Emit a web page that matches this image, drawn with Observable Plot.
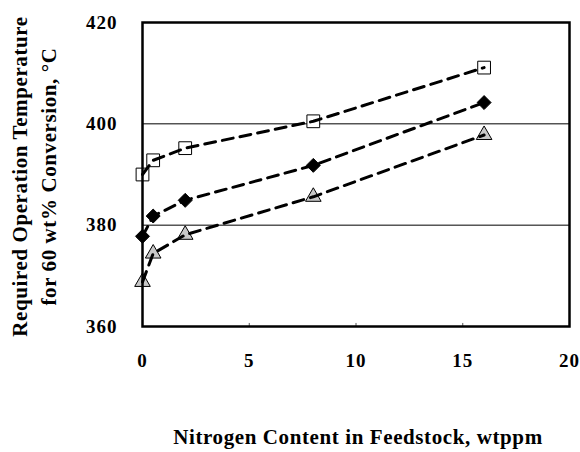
<!DOCTYPE html>
<html>
<head>
<meta charset="utf-8">
<script src="https://cdn.jsdelivr.net/npm/d3@7"></script>
<script src="https://cdn.jsdelivr.net/npm/@observablehq/plot@0.6"></script>
<style>
  html, body { margin: 0; padding: 0; background: #fff; }
</style>
</head>
<body>
<div id="chart"></div>
<script>
const nitrogen = [0, 0.5, 2, 8, 16];
const squareTemps = [390, 392.8, 395.2, 400.5, 411.1];
const diamondTemps = [377.8, 381.8, 384.9, 391.8, 404.2];
const triangleTemps = [368.8, 374.4, 378.1, 385.6, 397.8];
const xTicks = [0, 5, 10, 15, 20];
const yTicks = [360, 380, 400, 420];
const gridY = [380, 400];
const innerTicksX = [5, 10, 15];
const xTitle = "Nitrogen Content in Feedstock, wtppm";
const yTitle1 = "Required Operation Temperature";
const yTitle2 = "for 60 wt% Conversion, \u00B0C";

const mk = (temps) => nitrogen.map((x, i) => ({x, y: temps[i]}));
const sq = mk(squareTemps), di = mk(diamondTemps), tr = mk(triangleTemps);

const font = "'Liberation Serif', 'Times New Roman', serif";
const dash = {x: "x", y: "y", stroke: "black", strokeWidth: 3, strokeDasharray: "11,7"};

const chart = Plot.plot({
  width: 580,
  height: 452,
  marginLeft: 142,
  marginRight: 11,
  marginTop: 22,
  marginBottom: 126,
  style: {fontFamily: font, fontWeight: "bold", fontSize: "19px", background: "white", color: "black", letterSpacing: "1px"},
  x: {domain: [0, 20]},
  y: {domain: [360, 420]},
  marks: [
    Plot.ruleY(gridY, {stroke: "black", strokeWidth: 1}),
    Plot.ruleX(innerTicksX, {y1: 360, y2: 360.6, stroke: "#555", strokeWidth: 1}),
    Plot.dot(sq, {x: "x", y: "y", symbol: "square", r: 7.2, fill: "white", stroke: "black", strokeWidth: 1}),
    Plot.dot(di, {x: "x", y: "y", symbol: "diamond2", r: 6.3, fill: "black", stroke: "black", strokeWidth: 1}),
    Plot.dot(tr, {x: "x", y: "y", symbol: "triangle", r: 5.8, fill: "#c8c8c8", stroke: "black", strokeWidth: 1}),
    Plot.line(sq, dash),
    Plot.line(di, dash),
    Plot.line(tr, dash),
    Plot.frame({stroke: "black", strokeWidth: 2.5}),
    Plot.axisX({ticks: xTicks, tickSize: 0, tickPadding: 27, label: null, fontSize: 19, tickFormat: d => String(d)}),
    Plot.axisY({ticks: yTicks, tickSize: 0, tickPadding: 25, label: null, fontSize: 19, tickFormat: d => String(d)}),
    Plot.text([xTitle], {text: d => d, frameAnchor: "bottom", textAnchor: "middle", dy: 117, dx: 2, fontSize: 21, fontWeight: "bold"}),
    Plot.text([yTitle1], {text: d => d, frameAnchor: "left", textAnchor: "middle", dx: -122, dy: 2, rotate: -90, fontSize: 21, fontWeight: "bold"}),
    Plot.text([yTitle2], {text: d => d, frameAnchor: "left", textAnchor: "middle", dx: -93, dy: 2, rotate: -90, fontSize: 21, fontWeight: "bold"})
  ]
});
d3.select(chart).selectAll("text").each(function() {
  const t = this.textContent;
  if (t === xTitle) this.setAttribute("letter-spacing", "0.6px");
  if (t === yTitle1 || t === yTitle2) this.setAttribute("letter-spacing", "0.6px");
});
document.getElementById("chart").appendChild(chart);
</script>
</body>
</html>
